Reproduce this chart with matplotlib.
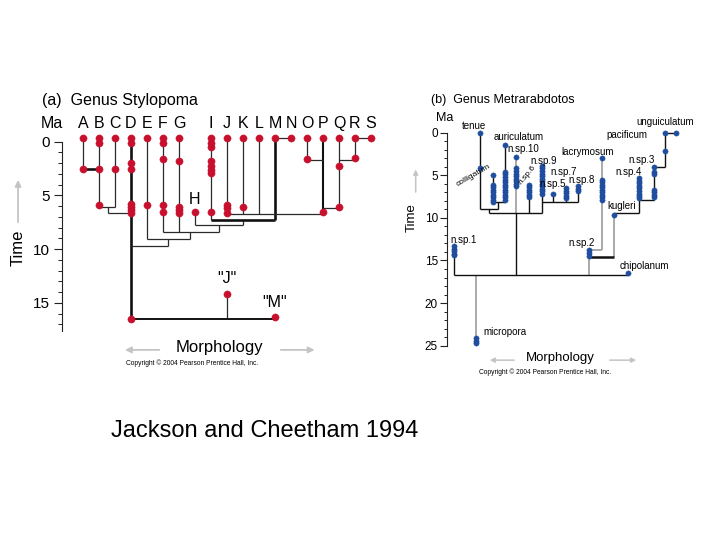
import matplotlib
matplotlib.use('Agg')
import matplotlib.pyplot as plt
from matplotlib.ticker import FixedLocator

plt.rcParams['font.family'] = ['Liberation Sans', 'DejaVu Sans']

RED = '#c8102e'
BLUE = '#1f4e9e'
BLK = '#111111'
DGRAY = '#2a2a2a'
LGRAY = '#9c9c9c'
ARROW = '#c4c4c4'

# ================= Panel (a) Genus Stylopoma =================
# morphology position (column) of each species, time in Ma
stylo_names = ['A', 'B', 'C', 'D', 'E', 'F', 'G', 'H', 'I', 'J',
               'K', 'L', 'M', 'N', 'O', 'P', 'Q', 'R', 'S']
stylo_x = [0, 1, 2, 3, 4, 5, 6, 7, 8, 9, 10, 11, 12, 13, 14, 15, 16, 17, 18]
stylo_header = ['A', 'B', 'C', 'D', 'E', 'F', 'G', '', 'I', 'J',
                'K', 'L', 'M', 'N', 'O', 'P', 'Q', 'R', 'S']
stylo_occ = [
    [-0.3, 2.55],
    [-0.3, 0.15, 2.55, 5.9],
    [-0.3, 2.55],
    [-0.3, 0.1, 1.95, 2.5, 5.75, 6.05, 6.35, 6.65, 16.45],
    [-0.3, 5.9],
    [-0.3, 0.15, 1.65, 5.9, 6.5],
    [-0.3, 1.8, 6.05, 6.35, 6.65],
    [6.5],
    [-0.3, 0.15, 0.45, 1.8, 2.25, 2.6, 2.95, 6.5],
    [-0.3, 5.9, 6.2, 6.65, 14.15],
    [-0.3, 6.05],
    [-0.3],
    [-0.3, 16.35],
    [-0.3],
    [-0.3, 1.6],
    [-0.3, 6.55],
    [-0.3, 2.25, 6.05],
    [-0.3, 1.5],
    [-0.3],
]
# vertical branches: (x, t_top, t_bottom, width)
stylo_vert = [
    (0, -0.3, 2.55, 0.9), (1, -0.3, 6.1, 0.9), (2, -0.3, 6.1, 0.9),
    (1.58, 6.1, 6.66, 0.9), (3, -0.3, 16.45, 1.9), (4, -0.3, 9.05, 0.9),
    (5, -0.3, 8.37, 0.9), (6, -0.3, 8.37, 0.9), (7, 6.5, 7.75, 0.9),
    (8, -0.3, 7.28, 0.9), (9, -0.3, 6.75, 0.9), (10, -0.3, 6.75, 0.9),
    (11, -0.3, 6.75, 0.9), (12, -0.3, 7.28, 1.9), (14, -0.3, 1.7, 0.9),
    (15, -0.3, 6.75, 1.5), (16, -0.3, 6.14, 0.9), (17, -0.3, 1.7, 0.9),
    (10.02, 7.28, 7.75, 0.9), (8.52, 7.75, 8.37, 0.9),
    (6.69, 8.37, 9.05, 0.9), (5.29, 9.05, 9.67, 0.9),
    (9, 14.15, 16.45, 0.9),
]
# horizontal links: (t, x_left, x_right, width)
stylo_horiz = [
    (2.55, 0, 1, 1.9), (6.1, 1, 2, 0.9), (6.66, 1.58, 3, 0.9),
    (7.75, 7, 10.02, 0.9), (7.28, 8, 12, 1.9), (6.75, 9, 15, 0.9),
    (-0.3, 12, 13, 0.9), (-0.3, 17, 18, 0.9), (1.7, 14, 15, 0.9),
    (1.7, 16, 17, 0.9), (6.14, 15, 16, 0.9), (8.37, 5, 8.52, 0.9),
    (9.05, 4, 6.69, 0.9), (9.67, 3, 5.29, 0.9), (16.45, 3, 12, 1.4),
]
stylo_ticks = [0, 5, 10, 15]
stylo_minor = list(range(0, 18))

# ================= Panel (b) Genus Metrarabdotos =================
metra_names = ['tenue', 'colligatum', 'auriculatum', 'n.sp.10', 'n.sp.6',
               'n.sp.9', 'n.sp.5', 'n.sp.7', 'n.sp.8', 'lacrymosum',
               'n.sp.2', 'kugleri', 'n.sp.4', 'n.sp.3', 'pacificum',
               'unguiculatum', 'chipolanum', 'n.sp.1', 'micropora']
metra_x = [3.3, 4.57, 5.83, 6.9, 8.17, 9.47, 10.57, 11.87, 13.13, 15.5,
           14.23, 16.73, 19.2, 20.7, 21.8, 22.87, 18.07, 0.73, 2.9]
metra_occ = [
    [0.0, 4.1],
    [4.96, 6.1, 6.4, 6.7, 7.0, 7.3, 7.6, 7.9, 8.1],
    [1.44, 4.6, 4.9, 5.2, 5.5, 5.8, 6.1, 6.4, 6.7, 7.0, 7.3, 7.6, 7.9],
    [2.8, 4.2, 4.5, 4.8, 5.1, 5.4, 5.7, 6.0, 6.3],
    [6.1, 6.4, 6.7, 7.0, 7.3, 7.6],
    [3.9, 4.2, 4.5, 4.8, 5.1, 5.4, 5.7, 6.0, 6.3, 6.6, 6.9, 7.2],
    [7.2],
    [6.5, 6.8, 7.1, 7.4, 7.7],
    [6.3, 6.6, 6.9],
    [2.93, 5.5, 5.8, 6.1, 6.4, 6.7, 7.0, 7.3, 7.6, 7.9],
    [13.8, 14.1, 14.45],
    [9.66],
    [5.35, 5.65, 5.95, 6.25, 6.55, 6.85, 7.15, 7.45, 7.7],
    [4.0, 4.6, 4.9, 6.7, 7.0, 7.3, 7.6],
    [0.07, 2.1],
    [0.07],
    [16.5],
    [13.3, 13.6, 13.9, 14.2, 14.4],
    [24.1, 24.4, 24.7],
]
# label placement (morph, Ma, rotation)
metra_lab = [
    (2.7, -0.75, 0), (2.6, 5.0, 30), (7.13, 0.55, 0), (7.63, 1.9, 0),
    (8.0, 5.0, 50), (9.63, 3.28, 0), (10.57, 6.0, 0), (11.7, 4.62, 0),
    (13.5, 5.6, 0), (14.1, 2.25, 0), (13.47, 12.95, 0), (17.47, 8.65, 0),
    (18.13, 4.65, 0), (19.47, 3.25, 0), (17.97, 0.25, 0), (21.8, -1.25, 0),
    (19.73, 15.6, 0), (1.63, 12.55, 0), (5.8, 23.4, 0),
]
# vertical branches: (x, t_top, t_bottom, colour, width)
metra_vert = [
    (3.3, 0.0, 8.96, BLK, 1.0), (4.57, 4.96, 8.1, BLK, 1.0),
    (5.83, 1.44, 8.1, BLK, 1.0), (5.13, 8.1, 8.96, BLK, 1.0),
    (4.23, 8.96, 9.46, BLK, 1.0), (6.9, 2.8, 9.46, LGRAY, 1.2),
    (6.9, 9.46, 16.7, BLK, 1.0), (8.17, 6.1, 9.46, BLK, 1.0),
    (9.47, 3.9, 9.46, BLK, 1.0), (10.57, 7.2, 8.1, BLK, 1.0),
    (11.87, 6.5, 8.1, BLK, 1.0), (13.13, 6.3, 8.1, BLK, 1.0),
    (15.5, 2.93, 13.77, LGRAY, 1.2), (14.23, 14.45, 16.7, LGRAY, 1.2),
    (16.73, 9.66, 14.55, LGRAY, 1.2), (19.2, 5.35, 9.46, BLK, 1.0),
    (20.7, 4.0, 7.9, BLK, 1.0), (21.8, 0.07, 4.0, BLK, 1.0),
    (0.73, 13.3, 16.7, BLK, 1.0), (2.9, 16.7, 24.1, LGRAY, 1.2),
]
# horizontal links: (t, x_left, x_right, colour, width)
metra_horiz = [
    (8.1, 4.57, 5.83, BLK, 1.0), (8.96, 3.3, 5.13, BLK, 1.0),
    (9.46, 4.23, 9.47, BLK, 1.0), (8.1, 9.47, 13.13, BLK, 1.0),
    (13.77, 14.23, 15.5, LGRAY, 1.2), (14.55, 14.23, 16.73, BLK, 1.8),
    (9.46, 16.73, 19.2, BLK, 1.0), (7.9, 19.2, 20.7, BLK, 1.0),
    (4.0, 20.7, 21.8, BLK, 1.0), (0.07, 21.8, 22.87, BLK, 1.0),
    (16.7, 0.73, 18.07, BLK, 1.0),
]
metra_ticks = [0, 5, 10, 15, 20, 25]
metra_minor = list(range(0, 26))

caption = 'Jackson and Cheetham 1994'
copyright_txt = 'Copyright \u00a9 2004 Pearson Prentice Hall, Inc.'

# ================= figure =================
fig = plt.figure(figsize=(7.2, 5.4), dpi=100)


def frame(ax, bounds, ticks, minor, size, majlen, minlen, pad):
    for s in ['top', 'right', 'bottom']:
        ax.spines[s].set_visible(False)
    ax.spines['left'].set_bounds(*bounds)
    ax.spines['left'].set_linewidth(0.8)
    ax.spines['left'].set_color('#222222')
    ax.set_xticks([])
    ax.yaxis.set_major_locator(FixedLocator(ticks))
    ax.yaxis.set_minor_locator(FixedLocator(minor))
    ax.tick_params(axis='y', which='major', length=majlen, width=0.8,
                   pad=pad, labelsize=size, color='#222222')
    ax.tick_params(axis='y', which='minor', length=minlen, width=0.7,
                   color='#222222')
    ax.patch.set_alpha(0)


# ---- panel a ----
axa = fig.add_axes([62 / 720, 1 - 370 / 540, 328 / 720, 270 / 540])
axa.set_xlim(-1.3125, 19.1875)
axa.set_ylim(21.24, -3.88)
frame(axa, (0, 17.6), stylo_ticks, stylo_minor, 11, 6, 3, 3)

for x, t0, t1, lw in stylo_vert:
    axa.plot([x, x], [t0, t1], color=BLK if lw > 1.2 else DGRAY, lw=lw,
             solid_capstyle='butt', zorder=2, clip_on=False)
for t, x0, x1, lw in stylo_horiz:
    axa.plot([x0, x1], [t, t], color=BLK if lw > 1.2 else DGRAY, lw=lw,
             solid_capstyle='butt', zorder=2, clip_on=False)
for x, occ in zip(stylo_x, stylo_occ):
    axa.plot([x] * len(occ), occ, 'o', ms=5.2, color=RED, mec=RED,
             mew=0.3, zorder=3, clip_on=False)
for x, lab in zip(stylo_x, stylo_header):
    axa.text(x, -1.65, lab, ha='center', va='center', fontsize=11.5)
axa.text(-1.95, -1.65, 'Ma', ha='center', va='center', fontsize=11.5)
axa.text(7, 5.4, 'H', ha='center', va='center', fontsize=11.5)
axa.text(9, 12.7, '"J"', ha='center', va='center', fontsize=11.5)
axa.text(12, 15.0, '"M"', ha='center', va='center', fontsize=11.5)
axa.text(-2.56, -3.79, '(a)  Genus Stylopoma', ha='left', va='center',
         fontsize=11.5)
axa.text(-4.06, 9.9, 'Time', ha='center', va='center', rotation=90,
         fontsize=12)
axa.annotate('', xy=(-4.06, 3.3), xytext=(-4.06, 7.75),
             arrowprops=dict(arrowstyle='-|>', color=ARROW, lw=1.3,
                             mutation_scale=9), annotation_clip=False)
axa.text(8.5, 19.19, 'Morphology', ha='center', va='center', fontsize=12)
axa.annotate('', xy=(2.45, 19.37), xytext=(4.94, 19.37),
             arrowprops=dict(arrowstyle='-|>', color=ARROW, lw=1.3,
                             mutation_scale=9), annotation_clip=False)
axa.annotate('', xy=(14.65, 19.37), xytext=(12.19, 19.37),
             arrowprops=dict(arrowstyle='-|>', color=ARROW, lw=1.3,
                             mutation_scale=9), annotation_clip=False)
axa.text(6.79, 20.6, copyright_txt, ha='center', va='center', fontsize=4.8)

# ---- panel b ----
axb = fig.add_axes([447 / 720, 1 - 380 / 540, 253 / 720, 285 / 540])
axb.set_xlim(0, 25.3)
axb.set_ylim(29.03, -4.42)
frame(axb, (0, 25), metra_ticks, metra_minor, 8.5, 5, 2.5, 1.5)

for x, t0, t1, c, lw in metra_vert:
    axb.plot([x, x], [t0, t1], color=c, lw=lw, solid_capstyle='butt',
             zorder=2, clip_on=False)
for t, x0, x1, c, lw in metra_horiz:
    axb.plot([x0, x1], [t, t], color=c, lw=lw, solid_capstyle='butt',
             zorder=2, clip_on=False)
for x, occ in zip(metra_x, metra_occ):
    axb.plot([x] * len(occ), occ, 'o', ms=3.8, color=BLUE, mec=BLUE,
             mew=0.3, zorder=3, clip_on=False)
for name, (lx, ly, rot) in zip(metra_names, metra_lab):
    axb.text(lx, ly, name, ha='center', va='center', rotation=rot,
             fontsize=7 if rot == 0 else 6)
axb.text(-0.2, -1.73, 'Ma', ha='center', va='center', fontsize=9)
axb.text(-1.6, -3.84, '(b)  Genus Metrarabdotos', ha='left', va='center',
         fontsize=9)
axb.text(-3.5, 10.0, 'Time', ha='center', va='center', rotation=90,
         fontsize=9.5)
axb.annotate('', xy=(-3.13, 4.0), xytext=(-3.13, 7.3),
             arrowprops=dict(arrowstyle='-|>', color=ARROW, lw=1.1,
                             mutation_scale=7), annotation_clip=False)
axb.text(11.37, 26.4, 'Morphology', ha='center', va='center', fontsize=9.5)
axb.annotate('', xy=(4.0, 26.7), xytext=(7.0, 26.7),
             arrowprops=dict(arrowstyle='-|>', color=ARROW, lw=1.1,
                             mutation_scale=7), annotation_clip=False)
axb.annotate('', xy=(19.2, 26.7), xytext=(16.0, 26.7),
             arrowprops=dict(arrowstyle='-|>', color=ARROW, lw=1.1,
                             mutation_scale=7), annotation_clip=False)
axb.text(9.8, 28.1, copyright_txt, ha='center', va='center', fontsize=4.8)

fig.text(265 / 720, 1 - 431 / 540, caption, ha='center', va='center',
         fontsize=17)

fig.savefig('out.png', dpi=100)
